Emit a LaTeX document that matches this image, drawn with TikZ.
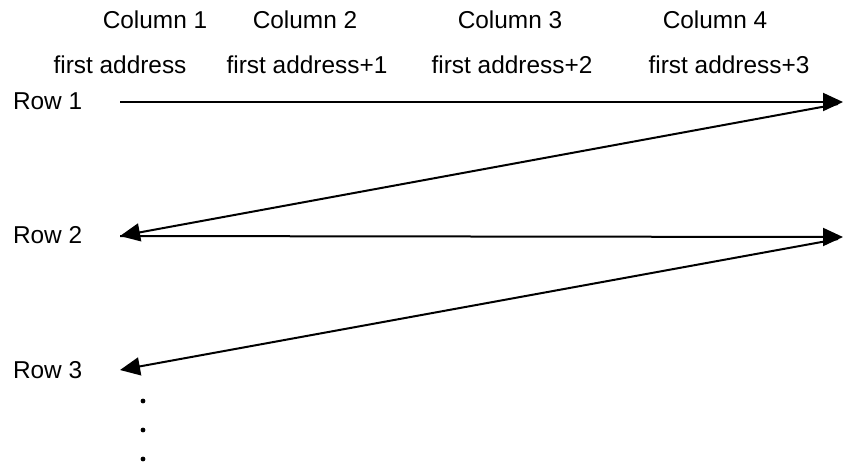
\documentclass[tikz,border=0pt]{standalone}
\usepackage{fontspec}
\setmainfont{Liberation Sans}
\usetikzlibrary{arrows.meta, positioning}

\begin{document}
\begin{tikzpicture}[x=0.5pt, y=-0.5pt, line width=1pt, font=\fontsize{12.2}{14}\selectfont,
    tip/.style={-{Triangle[length=10pt, width=9pt]}}]
    \useasboundingbox (0,0) rectangle (844,463);

    % column headings
    \node (c1) at (155,20) {Column 1};
    \node (c2) at (305,20) {Column 2};
    \node (c3) at (510,20) {Column 3};
    \node (c4) at (715,20) {Column 4};
    \node (a1) at (120,65) {first address};
    \node (a2) at (307,65) {first address+1};
    \node (a3) at (512,65) {first address+2};
    \node (a4) at (729,65) {first address+3};

    % rows
    \node[anchor=west, inner sep=0pt] (r1) at (12,101) {Row 1};
    \node[anchor=west, inner sep=0pt] (r2) at (12,235) {Row 2};
    \node[anchor=west, inner sep=0pt] (r3) at (12,370) {Row 3};

    \coordinate (r1w) at (120,102);
    \coordinate (r1e) at (843,102);
    \coordinate (r2w) at (120,236);
    \coordinate (r2e) at (843,237);
    \coordinate (r3w) at (120,370);

    \draw[tip] (r1w) -- (r1e);
    \draw[tip] (838,104) -- (r2w);
    \draw[tip] (r2w) -- (r2e);
    \draw[tip] (838,239) -- (r3w);

    % more rows
    \fill (143,401) circle (1.2pt) (143,430) circle (1.2pt) (143,459) circle (1.2pt);
\end{tikzpicture}
\end{document}
